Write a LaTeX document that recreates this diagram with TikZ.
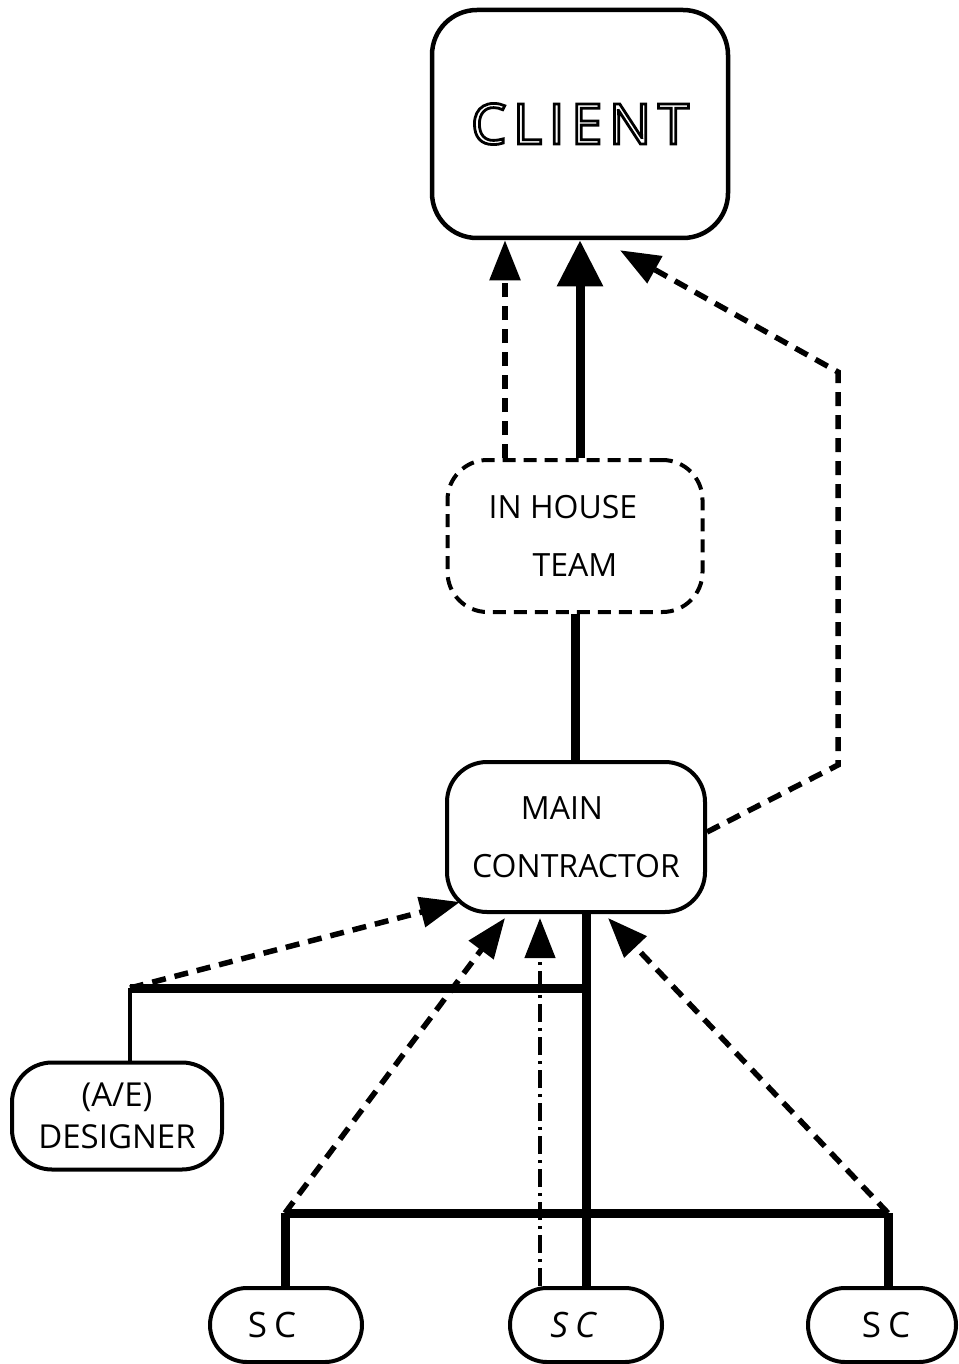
\documentclass[tikz,border=0pt]{standalone}
\usepackage{fontspec}
\setmainfont{Open Sans}
\usetikzlibrary{arrows.meta}
\newcommand\outlinetext[1]{\special{pdf:literal direct 1 Tr 2.8 w}#1\special{pdf:literal direct 0 Tr}}

\begin{document}
\begin{tikzpicture}[x=1pt,y=-1pt,
    box/.style={draw,line width=4pt,rounded corners=40pt,align=center,
        font=\fontsize{32}{58}\selectfont,inner sep=0pt},
    dashbox/.style={box,dash pattern=on 13pt off 8pt},
    scbox/.style={box,rounded corners=37pt,minimum width=152pt,minimum height=74pt,
        font=\fontsize{35}{40}\selectfont},
    mainline/.style={line width=9pt},
    thinline/.style={line width=4.5pt},
    dashline/.style={line width=5.5pt,dash pattern=on 14pt off 9pt},
    dotline/.style={line width=4.5pt,dash pattern=on 18pt off 6pt on 3pt off 6pt},
    tip/.style={-{Triangle[length=40pt,width=30pt]}},
    bigtip/.style={-{Triangle[length=46pt,width=44pt]}}]
    \useasboundingbox (0,0) rectangle (958,1364);
    \node[box,line width=4.5pt,rounded corners=45pt,minimum width=296pt,minimum height=228pt,
        font=\fontsize{56}{60}\selectfont\addfontfeature{LetterSpace=12}] (client) at (580,124)
        {\outlinetext{CLIENT}};
    \node[dashbox,minimum width=255pt,minimum height=152pt] (inhouse) at (575,536)
        {IN HOUSE\hspace*{24pt}\\TEAM};
    \node[box,minimum width=258pt,minimum height=150pt] (main) at (576,837)
        {MAIN\hspace*{28pt}\\CONTRACTOR};
    \node[box,minimum width=210pt,minimum height=107pt,font=\fontsize{33}{42}\selectfont] (designer) at (117,1116)
        {(A/E)\\DESIGNER};
    \node[scbox] (sc1) at (286,1325) {S\hspace{7pt}C\hspace*{28pt}};
    \node[scbox] (sc2) at (586,1325) {\itshape S\hspace{7pt}C\hspace*{26pt}};
    \node[scbox,minimum width=148pt] (sc3) at (882,1325) {\hspace*{8pt}S\hspace{7pt}C};
    % bends and buses
    \coordinate (rbend1) at (838,765);
    \coordinate (rbend2) at (838,372);
    \coordinate (dbus) at (130,988);
    \coordinate (sbusL) at (285,1213);
    \coordinate (sbusR) at (888,1213);
    % upward to client
    \draw[dashline,tip] ([xshift=-70pt]inhouse.north) -- ([xshift=-75pt]client.south);
    \draw[mainline,bigtip] ([xshift=5pt]inhouse.north) -- (client.south);
    \draw[dashline,tip] ([yshift=5pt]main.east) -- (rbend1) -- (rbend2) -- ([xshift=40pt,yshift=-10pt]client.south);
    \draw[mainline] (inhouse.south) -- (inhouse.south |- main.north);
    % contract lines below
    \draw[mainline] ([xshift=10pt]main.south) -- (sc2.north);
    \draw[mainline] (dbus) -- (dbus -| sc2.north);
    \draw[thinline] (dbus) -- (dbus |- designer.north);
    \draw[mainline] (sbusL) -- (sbusR);
    \draw[mainline] (sbusL) -- (sbusL |- sc1.north);
    \draw[mainline] (sbusR) -- (sbusR |- sc3.north);
    % reporting lines to main contractor
    \draw[dashline,tip] (dbus) -- ([xshift=15pt,yshift=12pt]main.south west);
    \draw[dashline,tip] (sbusL) -- ([xshift=-71pt,yshift=-4pt]main.south);
    \draw[dotline,tip] ([xshift=-46pt]sc2.north) -- ([xshift=-36pt,yshift=-4pt]main.south);
    \draw[dashline,tip] (sbusR) -- ([xshift=32pt,yshift=-4pt]main.south);
\end{tikzpicture}
\end{document}
